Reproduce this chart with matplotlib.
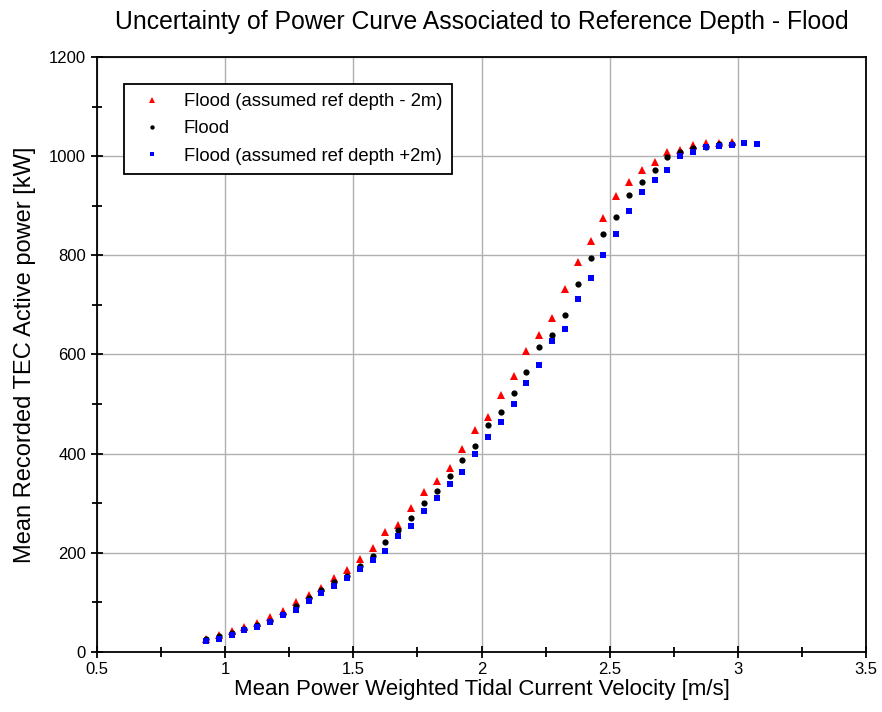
import matplotlib
matplotlib.use("Agg")
import matplotlib.pyplot as plt
from matplotlib.ticker import MultipleLocator, FormatStrFormatter

plt.rcParams['font.family'] = ['Liberation Sans', 'DejaVu Sans']

# bin centres of mean velocity [m/s]
vel = [0.925, 0.975, 1.025, 1.075, 1.125, 1.175, 1.225, 1.275, 1.325, 1.375,
       1.425, 1.475, 1.525, 1.575, 1.625, 1.675, 1.725, 1.775, 1.825, 1.875,
       1.925, 1.975, 2.025, 2.075, 2.125, 2.175, 2.225, 2.275, 2.325, 2.375,
       2.425, 2.475, 2.525, 2.575, 2.625, 2.675, 2.725, 2.775, 2.825, 2.875,
       2.925, 2.975, 3.025, 3.075]

# ref depth - 2m
power_minus2 = [26, 34, 43, 50, 59, 71, 83, 101, 115, 130,
                149, 165, 188, 209, 241, 256, 291, 323, 345, 372,
                409, 448, 473, 518, 557, 607, 639, 673, 732, 786,
                829, 875, 919, 947, 973, 989, 1008, 1012, 1022, 1026,
                1026, 1028]
# nominal
power_flood = [26, 32, 38, 46, 54, 63, 76, 93, 108, 125,
               142, 154, 173, 194, 221, 246, 270, 301, 325, 355,
               387, 416, 458, 484, 522, 565, 616, 640, 680, 742,
               795, 843, 877, 922, 948, 972, 998, 1008, 1016, 1019,
               1024, 1024]
# ref depth + 2m
power_plus2 = [23, 27, 34, 44, 51, 60, 74, 84, 103, 118,
               133, 150, 167, 185, 204, 233, 254, 284, 311, 339,
               362, 399, 433, 464, 500, 542, 578, 627, 652, 712,
               754, 801, 842, 889, 928, 951, 972, 1001, 1009, 1018,
               1021, 1023, 1027, 1024]

fig = plt.figure(figsize=(8.82, 7.12), dpi=100)
ax = fig.add_axes([0.110, 0.0843, 0.872, 0.8357])

ax.plot(vel[:len(power_minus2)], power_minus2, '^', color='red', ms=5.5,
        mew=0, label='Flood (assumed ref depth - 2m)')
ax.plot(vel[:len(power_flood)], power_flood, 'o', color='black', ms=4.5,
        mew=0, label='Flood')
ax.plot(vel, power_plus2, 's', color='blue', ms=4.2,
        mew=0, label='Flood (assumed ref depth +2m)')

ax.set_xlim(0.5, 3.5)
ax.set_ylim(0, 1200)
ax.xaxis.set_major_locator(MultipleLocator(0.5))
ax.xaxis.set_minor_locator(MultipleLocator(0.25))
ax.yaxis.set_major_locator(MultipleLocator(200))
ax.yaxis.set_minor_locator(MultipleLocator(100))
ax.xaxis.set_major_formatter(FormatStrFormatter('%g'))
ax.tick_params(which='major', direction='inout', length=9, width=1.3,
               labelsize=12, top=False, right=False)
ax.tick_params(which='minor', direction='inout', length=7, width=1.3,
               top=False, right=False)
ax.tick_params(axis='x', pad=3)
ax.grid(True, which='major', color='#b0b0b0', lw=1)
ax.set_axisbelow(True)
for s in ax.spines.values():
    s.set_linewidth(1.3)

ax.set_xlabel('Mean Power Weighted Tidal Current Velocity [m/s]', fontsize=16, labelpad=1)
ax.set_ylabel('Mean Recorded TEC Active power [kW]', fontsize=17, labelpad=9)
ax.set_title('Uncertainty of Power Curve Associated to Reference Depth - Flood',
             fontsize=17.8, pad=20)

leg = ax.legend(loc='upper left', bbox_to_anchor=(0.023, 0.97), fontsize=13.3,
                fancybox=False, framealpha=1, edgecolor='black',
                markerscale=0.7, handletextpad=0.75, borderpad=0.5,
                labelspacing=0.55, handlelength=2.0)
leg.get_frame().set_linewidth(1.3)

fig.savefig('out.png', dpi=100)
